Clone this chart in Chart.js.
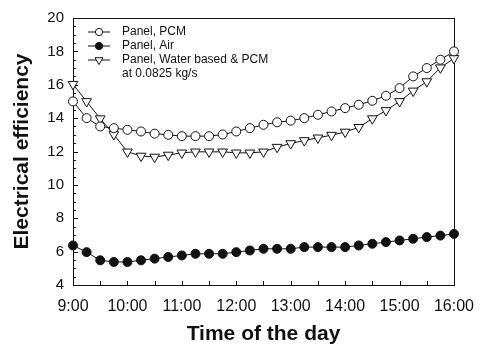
<!DOCTYPE html>
<html>
<head>
<meta charset="utf-8">
<script src="https://cdn.jsdelivr.net/npm/chart.js@4"></script>
<style>
  html, body { margin: 0; padding: 0; background: #fff; }
  #wrap { width: 486px; height: 349px; }
</style>
</head>
<body>
<div id="wrap"><canvas id="effChart"></canvas></div>
<script>
var times = ["9:00", "9:15", "9:30", "9:45", "10:00", "10:15", "10:30", "10:45",
    "11:00", "11:15", "11:30", "11:45", "12:00", "12:15", "12:30", "12:45",
    "13:00", "13:15", "13:30", "13:45", "14:00", "14:15", "14:30", "14:45",
    "15:00", "15:15", "15:30", "15:45", "16:00"];

var panelPcm = [15.0, 14.0, 13.5, 13.4, 13.3, 13.2, 13.07, 13.0, 12.92, 12.92, 12.92, 13.02,
    13.2, 13.4, 13.6, 13.75, 13.85, 14.0, 14.2, 14.4, 14.6, 14.8, 15.04, 15.34,
    15.8, 16.5, 17.0, 17.5, 18.0];

var panelAir = [6.37, 5.97, 5.48, 5.38, 5.38, 5.48, 5.58, 5.68, 5.77, 5.87, 5.87, 5.87,
    5.97, 6.07, 6.17, 6.17, 6.17, 6.27, 6.27, 6.27, 6.27, 6.37, 6.47, 6.57,
    6.67, 6.77, 6.87, 6.96, 7.06];

var panelWater = [16.03, 15.0, 13.97, 13.02, 11.98, 11.73, 11.67, 11.79, 11.92, 11.98, 11.98, 11.98,
    11.92, 11.92, 11.98, 12.26, 12.48, 12.66, 12.82, 12.98, 13.17, 13.45, 13.97, 14.46,
    15.0, 15.63, 16.19, 17.02, 17.58];

var legendLines = [["Panel, PCM"], ["Panel, Air"], ["Panel, Water based & PCM", "at 0.0825 kg/s"]];

var ink = "#111";

// box round the plot, inward ticks and the legend inside the plot
var framePlugin = {
    id: 'frame',
    beforeDatasetsDraw: function(chart) {
        var ctx = chart.ctx;
        var a = chart.chartArea;
        var xs = chart.scales.x;
        var ys = chart.scales.y;
        ctx.save();
        ctx.strokeStyle = ink;
        ctx.lineWidth = 1;
        ctx.strokeRect(Math.round(a.left) + 0.5, Math.round(a.top) + 0.5,
            Math.round(a.right - a.left), Math.round(a.bottom - a.top));

        ctx.beginPath();
        for (var i = 0; i < xs.ticks.length; i += 2) {
            var px = Math.round(xs.getPixelForTick(i)) + 0.5;
            ctx.moveTo(px, a.bottom);
            ctx.lineTo(px, a.bottom - 4);
        }
        for (var j = 0; j < ys.ticks.length; j++) {
            var v = ys.ticks[j].value;
            var py = Math.round(ys.getPixelForValue(v)) + 0.5;
            var len = (v % 2 === 0) ? 5 : 3;
            ctx.moveTo(a.left, py);
            ctx.lineTo(a.left + len, py);
        }
        ctx.stroke();
        ctx.restore();
    },
    afterDraw: function(chart) {
        var ctx = chart.ctx;
        var a = chart.chartArea;
        var x0 = a.left + 15;
        var y = a.top + 14;
        ctx.save();
        ctx.font = "12px 'Liberation Sans', Arial, sans-serif";
        ctx.textBaseline = "middle";
        chart.data.datasets.forEach(function(ds, k) {
            ctx.strokeStyle = ink;
            ctx.lineWidth = 1;
            ctx.beginPath();
            ctx.moveTo(x0, y);
            ctx.lineTo(x0 + 22, y);
            ctx.stroke();
            ctx.fillStyle = ds.pointBackgroundColor;
            Chart.helpers.drawPoint(ctx, {
                pointStyle: ds.pointStyle,
                radius: ds.pointStyle === 'triangle' ? 4.6 : 3.6,
                rotation: ds.pointRotation || 0,
                borderWidth: 1
            }, x0 + 11, y);
            ctx.fillStyle = ink;
            var lines = legendLines[k];
            for (var m = 0; m < lines.length; m++) {
                ctx.fillText(lines[m], x0 + 34, y);
                y += 14;
            }
        });
        ctx.restore();
    }
};

function seriesStyle(label, values, style, fill, rot, r) {
    return {
        label: label,
        data: values,
        borderColor: ink,
        borderWidth: 1,
        pointStyle: style,
        pointRadius: r,
        pointRotation: rot,
        pointBorderColor: ink,
        pointBorderWidth: 1,
        pointBackgroundColor: fill,
        tension: 0,
        clip: false
    };
}

var ctx = document.getElementById("effChart").getContext("2d");

var effChart = new Chart(ctx, {
    type: 'line',
    data: {
        labels: times,
        datasets: [
            seriesStyle(legendLines[0][0], panelPcm, 'circle', '#fff', 0, 4.5),
            seriesStyle(legendLines[1][0], panelAir, 'circle', ink, 0, 4.5),
            seriesStyle(legendLines[2].join(' '), panelWater, 'triangle', '#fff', 180, 5.6)
        ]
    },
    options: {
        responsive: true,
        maintainAspectRatio: false,
        animation: false,
        layout: { padding: { top: 16, right: 26, bottom: 0, left: 0 } },
        plugins: {
            legend: { display: false },
            tooltip: { enabled: false }
        },
        scales: {
            x: {
                type: 'category',
                offset: false,
                grid: { display: false, drawTicks: false },
                border: { display: false },
                afterFit: function(scale) { scale.height = 64; },
                ticks: {
                    autoSkip: false,
                    maxRotation: 0,
                    padding: 12,
                    color: ink,
                    font: { family: "'Liberation Sans', Arial, sans-serif", size: 16 },
                    callback: function(value) {
                        var l = this.getLabelForValue(value);
                        return l.slice(-3) === ':00' ? l : '';
                    }
                },
                title: {
                    display: true,
                    text: 'Time of the day',
                    color: ink,
                    padding: { top: 0, bottom: 2 },
                    font: { family: "'Liberation Sans', Arial, sans-serif", size: 21, weight: 'bold', lineHeight: 1.2 }
                }
            },
            y: {
                min: 4,
                max: 20,
                grid: { display: false, drawTicks: false },
                border: { display: false },
                afterFit: function(scale) { scale.width = 73; },
                ticks: {
                    stepSize: 0.5,
                    autoSkip: false,
                    padding: 9,
                    color: ink,
                    font: { family: "'Liberation Sans', Arial, sans-serif", size: 15 },
                    callback: function(value) {
                        return value % 2 === 0 ? value : '';
                    }
                },
                title: {
                    display: true,
                    text: 'Electrical efficiency',
                    color: ink,
                    padding: { top: 10, bottom: 0 },
                    font: { family: "'Liberation Sans', Arial, sans-serif", size: 21, weight: 'bold', lineHeight: 1.2 }
                }
            }
        }
    },
    plugins: [framePlugin]
});
</script>
</body>
</html>
